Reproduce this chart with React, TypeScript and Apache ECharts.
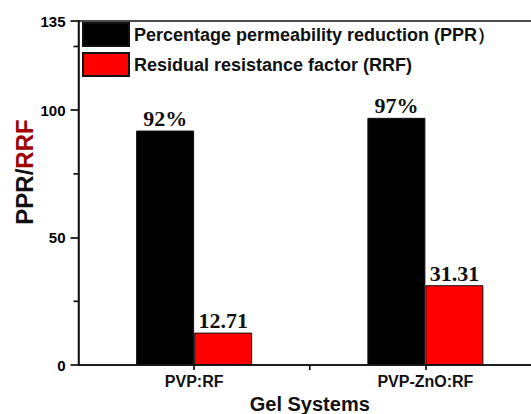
import React, { useEffect, useRef } from "react";
import * as echarts from "echarts";

const categories = ["PVP:RF", "PVP-ZnO:RF"];
const pprValues = [92, 97];
const rrfValues = [12.71, 31.31];
const pprLabels = ["92%", "97%"];
const rrfLabels = ["12.71", "31.31"];
const seriesNames = ["Percentage permeability reduction (PPR）", "Residual resistance factor (RRF)"];
const yMinorTicks = [25, 75, 125];
const xBoundaryTicks = [0];

export default function App() {
  const ref = useRef<HTMLDivElement>(null);
  useEffect(() => {
    if (!ref.current) return;
    const chart = echarts.init(ref.current, null, { renderer: "svg" });
    const sans = "'Liberation Sans', Arial, sans-serif";
    const serif = "'Liberation Serif', 'Times New Roman', serif";
    const tickStyle = { stroke: "#000", lineWidth: 1.6 };
    const valueLabel = (arr: string[]) => ({
      show: true,
      position: "top" as const,
      distance: 1,
      fontFamily: serif,
      fontWeight: "bold" as const,
      fontSize: 22,
      color: "#111",
      formatter: (p: any) => arr[p.dataIndex],
    });
    chart.setOption({
      animation: false,
      backgroundColor: "#fff",
      grid: {
        left: 78.5,
        top: 21,
        right: -10,
        bottom: 49,
        containLabel: false,
        outerBoundsMode: "none",
        show: true,
        borderColor: "#111",
        borderWidth: 1.5,
      },
      legend: {
        orient: "vertical",
        left: 82,
        top: 22,
        padding: 0,
        itemWidth: 46,
        itemHeight: 23,
        itemGap: 5,
        icon: "rect",
        data: seriesNames,
        textStyle: { fontFamily: sans, fontSize: 18, fontWeight: "bold", color: "#111" },
      },
      xAxis: {
        type: "category",
        data: categories,
        axisLine: { lineStyle: { color: "#111", width: 1.5 } },
        axisTick: { show: true, alignWithLabel: true, length: 5, lineStyle: { color: "#000", width: 1.6 } },
        axisLabel: { fontFamily: sans, fontWeight: "bold", fontSize: 16, color: "#111", margin: 8 },
        name: "Gel Systems",
        nameLocation: "middle",
        nameGap: 28,
        nameTextStyle: { fontFamily: sans, fontWeight: "bold", fontSize: 20, color: "#111" },
      },
      yAxis: {
        type: "value",
        min: 0,
        max: 135,
        interval: 50,
        splitLine: { show: false },
        axisLine: { show: true, lineStyle: { color: "#111", width: 1.5 } },
        axisTick: { show: true, length: 8, lineStyle: { color: "#000", width: 1.6 } },
        axisLabel: { fontFamily: sans, fontWeight: "bold", fontSize: 15, color: "#000", margin: 13 },
      },
      series: [
        {
          name: seriesNames[0],
          type: "bar",
          data: pprValues,
          barWidth: 58,
          barGap: "0%",
          itemStyle: { color: "#000", borderColor: "#111", borderWidth: 1 },
          label: valueLabel(pprLabels),
        },
        {
          name: seriesNames[1],
          type: "bar",
          data: rrfValues,
          barWidth: 58,
          barGap: "0%",
          itemStyle: { color: "#ff0000", borderColor: "#111", borderWidth: 1 },
          label: valueLabel(rrfLabels),
        },
        {
          type: "custom",
          name: "yMinor",
          clip: false,
          silent: true,
          data: yMinorTicks.map((v) => [0, v]),
          renderItem: (params: any, api: any) => {
            const y = api.coord([0, api.value(1)])[1];
            const x = params.coordSys.x;
            return {
              type: "line",
              shape: { x1: x - 5, y1: y, x2: x, y2: y },
              style: tickStyle,
            };
          },
        },
        {
          type: "custom",
          name: "xBoundary",
          clip: false,
          silent: true,
          data: xBoundaryTicks.map((v) => [v, 0]),
          renderItem: (params: any, api: any) => {
            const p = api.coord([api.value(0), 0]);
            const band = api.size([1, 0])[0];
            const x = p[0] + band / 2;
            return {
              type: "line",
              shape: { x1: x, y1: p[1], x2: x, y2: p[1] + 5 },
              style: tickStyle,
            };
          },
        },
      ],
      graphic: [
        {
          type: "text",
          x: 12,
          y: 172,
          rotation: Math.PI / 2,
          style: {
            text: "{a|PPR/}{b|RRF}",
            align: "center",
            verticalAlign: "top",
            rich: {
              a: { fontFamily: sans, fontWeight: "bold", fontSize: 24, fill: "#111" },
              b: { fontFamily: sans, fontWeight: "bold", fontSize: 24, fill: "#a00000" },
            },
          },
        },
      ],
    });
    return () => chart.dispose();
  }, []);
  return <div ref={ref} style={{ width: 531, height: 414, position: "absolute", left: 0, top: 0 }} />;
}
